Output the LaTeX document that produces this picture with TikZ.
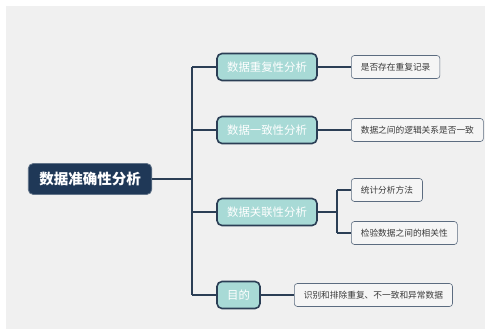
\documentclass[tikz,border=0pt]{standalone}
\usepackage{fontspec}
\newfontfamily\cjk{Noto Sans CJK SC}
\definecolor{bg}{HTML}{F0F0F0}
\definecolor{navy}{HTML}{1F3857}
\definecolor{lnc}{HTML}{2B3E55}
\definecolor{teal}{HTML}{A8DAD6}
\definecolor{leaffill}{HTML}{F5F5F5}
\definecolor{leafline}{HTML}{5C6C80}
\definecolor{leaftext}{HTML}{3A3A3A}
\begin{document}
\begin{tikzpicture}[x=1pt,y=-1pt,
  rootbox/.style={draw=navy!70!white,fill=navy,rounded corners=5pt,text=white,font=\cjk\bfseries\fontsize{14.5}{15}\selectfont,minimum height=31pt,inner xsep=11pt,line width=0.8pt},
  branchbox/.style={draw=lnc,fill=teal,rounded corners=5pt,text=white,font=\cjk\fontsize{11.4}{12}\selectfont,minimum height=27pt,inner xsep=10pt,line width=1.6pt},
  leafbox/.style={draw=leafline,fill=leaffill,rounded corners=3pt,text=leaftext,font=\cjk\fontsize{8.7}{9}\selectfont,minimum height=23pt,inner xsep=9.5pt,line width=0.6pt},
  conn/.style={draw=lnc,line width=1.3pt}]
\useasboundingbox (0,0) rectangle (486,329);
\fill[white] (0,0) rectangle (486,329);
\fill[bg] (6,6) rectangle (485,329);
\coordinate (trunkT) at (192,67);
\coordinate (trunkB) at (192,295);
\coordinate (tr) at (192,179);
\coordinate (s1) at (192,67);
\coordinate (s2) at (192,130);
\coordinate (s3) at (192,212);
\coordinate (s4) at (192,295);
\coordinate (sub) at (337,212);
\coordinate (subT) at (337,190);
\coordinate (subB) at (337,233);
% connectors
\draw[conn] (trunkT) -- (trunkB);
\draw[conn] (subT) -- (subB);
\node[rootbox] (root) at (90,179) {数据准确性分析};
\node[branchbox,minimum width=100pt] (b1) at (267,67) {数据重复性分析};
\node[branchbox,minimum width=100pt] (b2) at (267,130) {数据一致性分析};
\node[branchbox,minimum width=100pt] (b3) at (267,212) {数据关联性分析};
\node[branchbox,minimum width=43pt] (b4) at (238.5,295) {目的};
\node[leafbox,anchor=west] (l1) at (351,67) {是否存在重复记录};
\node[leafbox,anchor=west] (l2) at (351,130) {数据之间的逻辑关系是否一致};
\node[leafbox,anchor=west] (l3) at (351,190) {统计分析方法};
\node[leafbox,anchor=west] (l4) at (351,233) {检验数据之间的相关性};
\node[leafbox,anchor=west] (l5) at (294,295) {识别和排除重复、不一致和异常数据};
\draw[conn] (root.east) -- (tr);
\draw[conn] (s1) -- (b1.west);
\draw[conn] (s2) -- (b2.west);
\draw[conn] (s3) -- (b3.west);
\draw[conn] (s4) -- (b4.west);
\draw[conn] (b1.east) -- (l1.west);
\draw[conn] (b2.east) -- (l2.west);
\draw[conn] (b3.east) -- (sub);
\draw[conn] (subT) -- (l3.west);
\draw[conn] (subB) -- (l4.west);
\draw[conn] (b4.east) -- (l5.west);
\end{tikzpicture}
\end{document}
